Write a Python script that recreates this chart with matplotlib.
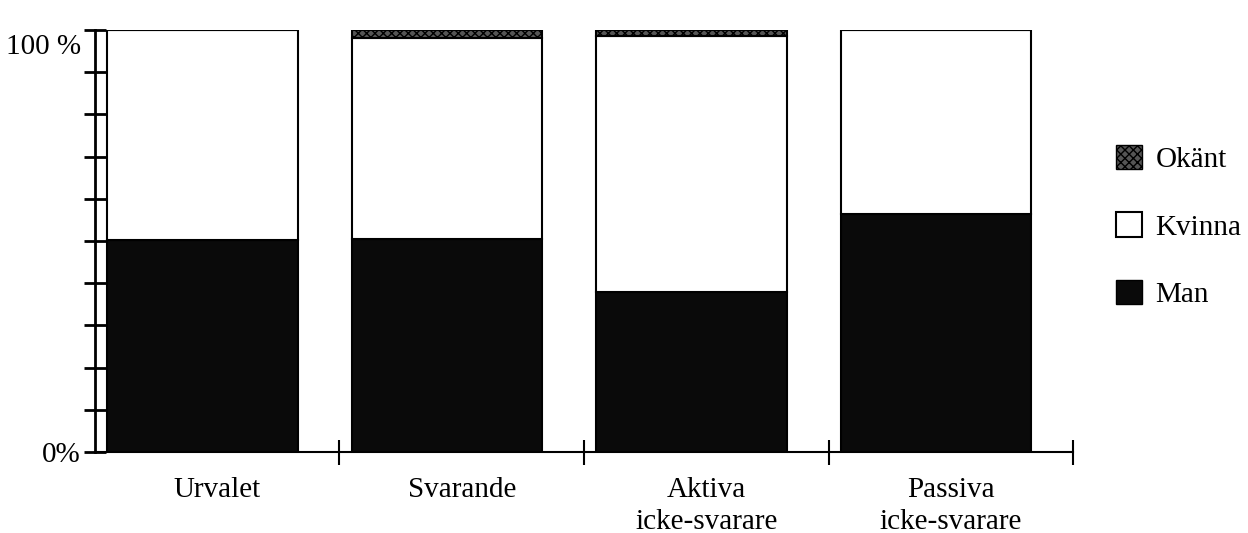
import matplotlib
matplotlib.use('Agg')
from matplotlib import pyplot as plt
from matplotlib.patches import Patch
from matplotlib.transforms import ScaledTranslation
import numpy as np

plt.rcParams['font.family'] = ['Liberation Serif', 'DejaVu Serif']
plt.rcParams['hatch.linewidth'] = 1.0

# data (percent)
categories = ['Urvalet', 'Svarande', 'Aktiva\nicke-svarare', 'Passiva\nicke-svarare']
man = [50.2, 50.5, 37.9, 56.4]
okant = [0.0, 2.0, 1.5, 0.0]
kvinna = [100 - m - o for m, o in zip(man, okant)]

fig = plt.figure(figsize=(12.48, 5.33), dpi=100)
ax = fig.add_axes([0.0761, 0.152, 0.7837, 0.7918])

x = np.arange(len(categories)) + 0.44
w = 0.78
ax.bar(x, man, w, color='#0a0a0a', edgecolor='black', linewidth=1.5)
ax.bar(x, kvinna, w, bottom=man, color='white', edgecolor='black', linewidth=1.5)
bot = [m + k for m, k in zip(man, kvinna)]
ax.bar(x, okant, w, bottom=bot, color='#555555', edgecolor='black', hatch='xxxx', linewidth=1.5)

ax.set_xlim(0, 4)
ax.set_ylim(0, 100)
for s in ['top', 'right']:
    ax.spines[s].set_visible(False)
ax.spines['left'].set_linewidth(2)
ax.spines['bottom'].set_linewidth(1.5)

ax.set_yticks(np.arange(0, 101, 10))
ax.set_yticklabels(['0%'] + [''] * 9 + ['100 %'])
ax.tick_params(axis='y', direction='inout', length=16, width=2, labelsize=21, pad=2)
lab = ax.get_yticklabels()[-1]
lab.set_transform(lab.get_transform() + ScaledTranslation(0, -0.14, fig.dpi_scale_trans))

ax.set_xticks([1, 2, 3, 4])
ax.set_xticklabels([])
ax.tick_params(axis='x', which='major', direction='inout', length=18, width=1.5)
ax.set_xticks(np.arange(4) + 0.5, minor=True)
ax.set_xticklabels(categories, minor=True, fontsize=21, linespacing=1.3)
ax.tick_params(axis='x', which='minor', length=0, pad=18)

handles = [Patch(facecolor='#555555', edgecolor='black', hatch='xxxx', label='Okänt'),
           Patch(facecolor='white', edgecolor='black', linewidth=1.5, label='Kvinna'),
           Patch(facecolor='#0a0a0a', edgecolor='black', label='Man')]
fig.legend(handles=handles, loc='upper left', bbox_to_anchor=(0.885, 0.75), frameon=False,
           fontsize=21, handlelength=0.9, handleheight=0.9, handletextpad=0.45,
           labelspacing=1.35, borderaxespad=0)

fig.savefig('out.png', dpi=100)
